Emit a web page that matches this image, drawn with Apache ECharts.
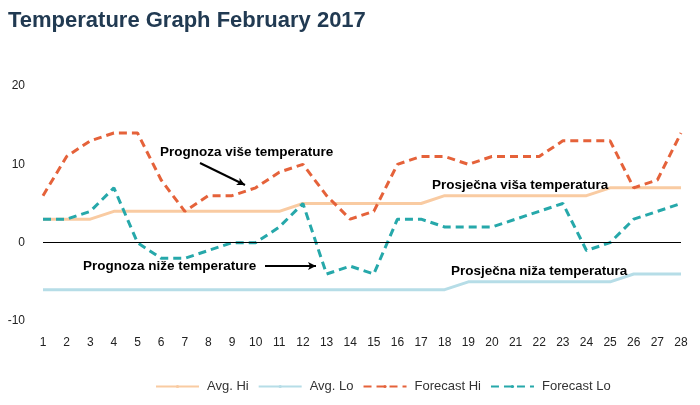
<!DOCTYPE html>
<html>
<head>
<meta charset="utf-8">
<script src="https://cdn.jsdelivr.net/npm/echarts@6/dist/echarts.min.js"></script>
<style>html,body{margin:0;padding:0;background:#fff}#c{width:700px;height:405px}</style>
</head>
<body>
<div id="c"></div>
<script>
var days = ['1','2','3','4','5','6','7','8','9','10','11','12','13','14','15','16','17','18','19','20','21','22','23','24','25','26','27','28'];
var avgHi = [3,3,3,4,4,4,4,4,4,4,4,5,5,5,5,5,5,6,6,6,6,6,6,6,7,7,7,7];
var avgLo = [-6,-6,-6,-6,-6,-6,-6,-6,-6,-6,-6,-6,-6,-6,-6,-6,-6,-6,-5,-5,-5,-5,-5,-5,-5,-4,-4,-4];
var forecastHi = [6,11,13,14,14,8,4,6,6,7,9,10,6,3,4,10,11,11,10,11,11,11,13,13,13,7,8,14];
var forecastLo = [3,3,4,7,0,-2,-2,-1,0,0,2,5,-4,-3,-4,3,3,2,2,2,3,4,5,-1,0,3,4,5];
var yTicks = {min: -10, max: 20, interval: 10};

var chart = echarts.init(document.getElementById('c'), null, {renderer: 'canvas'});
var annFont = 'bold 13.5px "Liberation Sans", Arial, sans-serif';
var arrowStyle = {color: '#000', width: 2, type: 'solid'};
chart.setOption({
  animation: false,
  title: {
    text: 'Temperature Graph February 2017',
    left: 3, top: 5,
    textStyle: {fontFamily: '"Liberation Sans", Arial, sans-serif', fontSize: 22, fontWeight: 'bold', color: '#213a52'}
  },
  grid: {left: 43, right: 19, top: 86, bottom: 84},
  legend: {
    bottom: 7, left: 150,
    itemWidth: 43, itemHeight: 4, itemGap: 9,
    textStyle: {fontFamily: 'Arial, "Liberation Sans", sans-serif', fontSize: 13, color: '#333', padding: [0, 0, 0, 3]},
    data: ['Avg. Hi', 'Avg. Lo', 'Forecast Hi', 'Forecast Lo']
  },
  xAxis: {
    type: 'category', data: days, boundaryGap: false,
    axisLine: {show: false}, axisTick: {show: false},
    axisLabel: {fontSize: 12, color: '#222', margin: 16, fontFamily: 'Arial, "Liberation Sans", sans-serif'}
  },
  yAxis: {
    type: 'value', min: yTicks.min, max: yTicks.max, interval: yTicks.interval,
    splitLine: {show: false},
    axisLine: {show: false}, axisTick: {show: false},
    axisLabel: {fontSize: 12, color: '#222', margin: 18, fontFamily: 'Arial, "Liberation Sans", sans-serif'}
  },
  series: [
    {name: 'Avg. Hi', type: 'line', data: avgHi, showSymbol: false, symbol: 'none',
      lineStyle: {color: '#f9cba2', width: 3}, itemStyle: {color: '#f9cba2'}, z: 1,
      markLine: {silent: true, symbol: 'none', label: {show: false},
        lineStyle: {color: '#000', width: 1, type: 'solid'},
        data: [{yAxis: 0}]}},
    {name: 'Avg. Lo', type: 'line', data: avgLo, showSymbol: false, symbol: 'none',
      lineStyle: {color: '#b6dde7', width: 3}, itemStyle: {color: '#b6dde7'}, z: 1},
    {name: 'Forecast Hi', type: 'line', data: forecastHi, showSymbol: false, symbol: 'none',
      lineStyle: {color: '#e5623a', width: 3, type: [8, 5]}, itemStyle: {color: '#e5623a'}, z: 2,
      markLine: {silent: true, symbol: ['none', 'arrow'], symbolSize: [6, 8], label: {show: false},
        lineStyle: arrowStyle,
        data: [[{x: 200, y: 163}, {x: 245, y: 185}], [{x: 265, y: 266}, {x: 316, y: 266}]]}},
    {name: 'Forecast Lo', type: 'line', data: forecastLo, showSymbol: false, symbol: 'none',
      lineStyle: {color: '#26a8aa', width: 3, type: [8, 5]}, itemStyle: {color: '#26a8aa'}, z: 2}
  ],
  graphic: [
    {type: 'text', left: 160, top: 145, z: 10, style: {text: 'Prognoza više temperature', font: annFont, fill: '#000'}},
    {type: 'text', left: 83, top: 259, z: 10, style: {text: 'Prognoza niže temperature', font: annFont, fill: '#000'}},
    {type: 'text', left: 432, top: 178, z: 10, style: {text: 'Prosječna viša temperatura', font: annFont, fill: '#000'}},
    {type: 'text', left: 451, top: 264, z: 10, style: {text: 'Prosječna niža temperatura', font: annFont, fill: '#000'}}
  ]
});
</script>
</body>
</html>
